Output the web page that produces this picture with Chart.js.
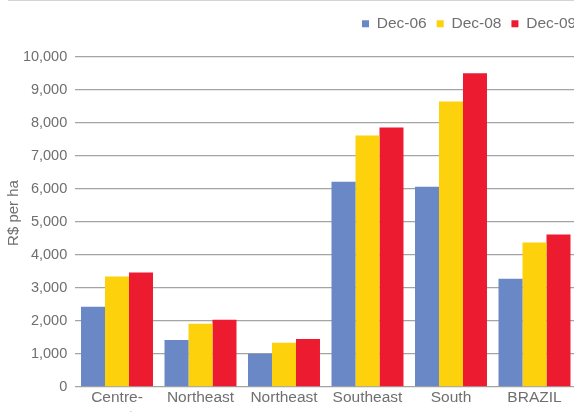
<!DOCTYPE html>
<html>
<head>
<meta charset="utf-8">
<script src="https://cdn.jsdelivr.net/npm/chart.js@4.4.0/dist/chart.umd.min.js"></script>
<style>
  html, body { margin: 0; padding: 0; overflow: hidden; background: #fff; }
  #wrap { position: relative; width: 574px; height: 412px; overflow: hidden; }
  #topline { position: absolute; left: 8px; top: 0; width: 600px; height: 1px; background: #d4d4d4; }
  canvas { position: absolute; left: 0; top: 0; }
</style>
</head>
<body>
<div id="wrap">
  <canvas id="myChart" width="600" height="420"></canvas>
  <div id="topline"></div>
</div>
<script>
const regions = [['Centre-', 'west'], 'Northeast', 'Northeast', 'Southeast', 'South', 'BRAZIL'];
const dec06 = [2420, 1420, 1000, 6210, 6060, 3270];
const dec08 = [3340, 1910, 1330, 7610, 8640, 4365];
const dec09 = [3460, 2030, 1450, 7850, 9490, 4610];
const yTicks = [0, 1000, 2000, 3000, 4000, 5000, 6000, 7000, 8000, 9000, 10000];

const textColor = '#6f6f6f';
const fontFamily = "'Liberation Sans', Arial, sans-serif";

// y axis title, drawn by hand so it can sit where the original has it
const axisTitle = {
    id: 'axisTitle',
    afterLayout(chart) {
        const lg = chart.legend;
        lg.left = 352;
        lg.right = 600;
        lg.top = 6;
    },
    afterDraw(chart) {
        const ctx = chart.ctx;
        ctx.save();
        ctx.translate(14, 213);
        ctx.rotate(-Math.PI / 2);
        ctx.font = '15px ' + fontFamily;
        ctx.fillStyle = textColor;
        ctx.textAlign = 'center';
        ctx.textBaseline = 'middle';
        ctx.fillText('R$ per ha', 0, 0);
        ctx.restore();
    }
};

new Chart(document.getElementById("myChart"), {
    type: 'bar',
    data: {
        labels: regions,
        datasets: [{
            data: dec06,
            label: "Dec-06",
            backgroundColor: "#6a88c6"
        }, {
            data: dec08,
            label: "Dec-08",
            backgroundColor: "#fdd10b"
        }, {
            data: dec09,
            label: "Dec-09",
            backgroundColor: "#ed1b30"
        }]
    },
    options: {
        responsive: false,
        animation: false,
        layout: {
            padding: { top: 21, right: 23.75, left: 0, bottom: 0 }
        },
        datasets: {
            bar: { categoryPercentage: 0.862, barPercentage: 1.0 }
        },
        plugins: {
            legend: {
                align: 'start',
                labels: {
                    boxWidth: 7,
                    boxHeight: 7,
                    padding: 10,
                    color: textColor,
                    font: { family: fontFamily, size: 15.5 }
                }
            },
            tooltip: { enabled: false }
        },
        scales: {
            x: {
                grid: { display: false },
                border: { display: false },
                ticks: {
                    color: textColor,
                    padding: -6,
                    maxRotation: 0,
                    autoSkip: false,
                    font: { family: fontFamily, size: 15.5 }
                }
            },
            y: {
                min: 0,
                max: 10000,
                afterFit(scale) { scale.width = 75.25; },
                afterBuildTicks(scale) { scale.ticks = yTicks.map(v => ({ value: v })); },
                grid: { color: '#a4a4a4', lineWidth: 1.2, drawTicks: false },
                border: { display: false },
                ticks: {
                    color: textColor,
                    padding: 8,
                    font: { family: fontFamily, size: 14.5 },
                    callback: v => v.toLocaleString('en-US')
                }
            }
        }
    },
    plugins: [axisTitle]
});
</script>
</body>
</html>
